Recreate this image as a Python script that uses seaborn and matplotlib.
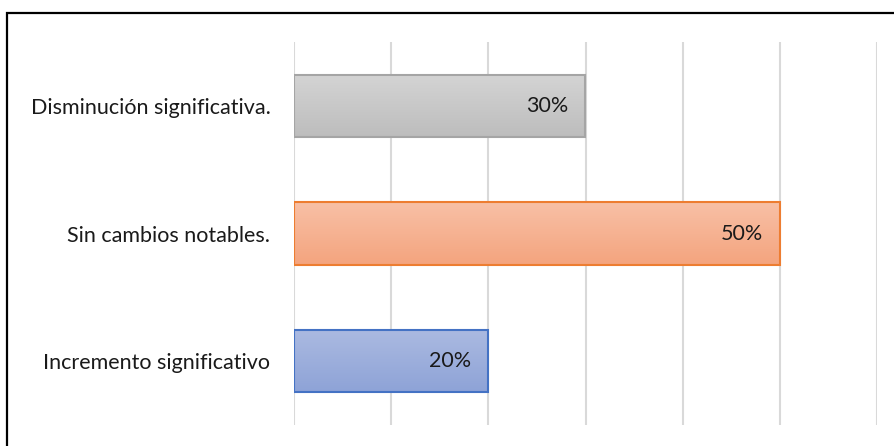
import matplotlib
matplotlib.use("Agg")
import matplotlib.pyplot as plt
import numpy as np
import pandas as pd
import seaborn as sns
from matplotlib.colors import LinearSegmentedColormap
from matplotlib.patches import Rectangle

categorias = ["Disminución significativa.", "Sin cambios notables.", "Incremento significativo"]
valores = [0.30, 0.50, 0.20]
etiquetas = ["30%", "50%", "20%"]

# gradient top -> bottom, and edge colour for each bar
degradados = [("#d4d4d4", "#bdbdbd"), ("#f8c0a6", "#f4a47e"), ("#abbae1", "#8ea3d7")]
bordes = ["#a5a5a5", "#ed7d31", "#4472c4"]

sns.set_style("white")
plt.rcParams["font.family"] = ["Lato", "DejaVu Sans"]

df = pd.DataFrame({"categoria": categorias, "valor": valores})

fig = plt.figure(figsize=(8.94, 4.46), dpi=100)
ax = fig.add_axes([294 / 894, 1 - 425 / 446, (877 - 294) / 894, (425 - 42) / 446])

sns.barplot(data=df, x="valor", y="categoria", orient="h", ax=ax,
            width=0.49, color="white", zorder=3)

for i, bar in enumerate(ax.patches):
    bar.set_edgecolor(bordes[i])
    bar.set_linewidth(1.5)
    bar.set_facecolor("none")
    x0, y0 = bar.get_x(), bar.get_y()
    w, h = bar.get_width(), bar.get_height()
    cmap = LinearSegmentedColormap.from_list("g%d" % i, degradados[i][::-1])
    grad = np.linspace(0, 1, 100).reshape(-1, 1)
    im = ax.imshow(grad, cmap=cmap, aspect="auto", extent=(x0, x0 + w, y0 + h, y0),
                   origin="lower", zorder=2)
    im.set_clip_path(bar)
    ax.text(x0 + w - 0.0175, y0 + h / 2, etiquetas[i], ha="right", va="center",
            fontsize=15.5, color="#1a1a1a", zorder=4)

ax.set_xlim(0, 0.6)
ax.set_ylim(2.5, -0.5)
ax.set_xticks(np.arange(0, 0.61, 0.1))
ax.set_xticklabels([])
ax.tick_params(axis="x", length=0)
ax.tick_params(axis="y", length=0, pad=17, labelsize=15.5, labelcolor="#1a1a1a")
ax.xaxis.grid(True, color="#d9d9d9", linewidth=1.5, zorder=0)
ax.yaxis.grid(False)
ax.set_axisbelow(True)
ax.set_xlabel("")
ax.set_ylabel("")
for s in ax.spines.values():
    s.set_visible(False)

# outer frame (only top and left edges fall inside the picture)
fig.patches.append(Rectangle((7 / 894, -0.2), 1.2, 1 - 13 / 446 + 0.2,
                             transform=fig.transFigure, fill=False,
                             edgecolor="black", linewidth=1.6, clip_on=False))

fig.savefig("out.png", dpi=100)
